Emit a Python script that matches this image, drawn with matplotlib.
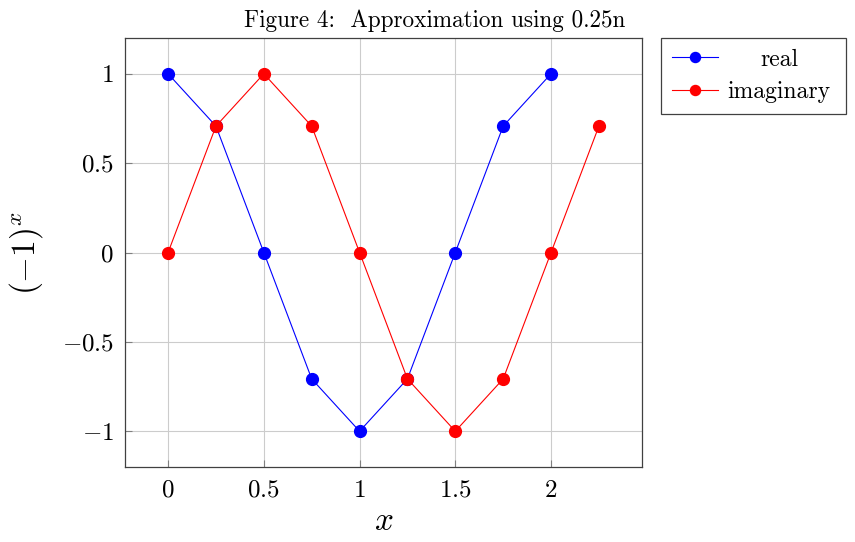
import matplotlib
matplotlib.use("Agg")
import matplotlib.pyplot as plt
from matplotlib.offsetbox import VPacker, DrawingArea

plt.rcParams['mathtext.fontset'] = 'cm'
plt.rcParams['font.family'] = ['cmr10', 'DejaVu Serif']
plt.rcParams['axes.formatter.use_mathtext'] = True

x_real = [0, 0.25, 0.5, 0.75, 1.0, 1.25, 1.5, 1.75, 2.0]
y_real = [1, 0.7071, 0, -0.7071, -1, -0.7071, 0, 0.7071, 1]
x_imag = [0, 0.25, 0.5, 0.75, 1.0, 1.25, 1.5, 1.75, 2.0, 2.25]
y_imag = [0, 0.7071, 1, 0.7071, 0, -0.7071, -1, -0.7071, 0, 0.7071]
xticks = [0, 0.5, 1, 1.5, 2]
xticklabels = ['$0$', '$0.5$', '$1$', '$1.5$', '$2$']
yticks = [-1, -0.5, 0, 0.5, 1]
yticklabels = ['$-1$', '$-0.5$', '$0$', '$0.5$', '$1$']

fig = plt.figure(figsize=(8.55, 5.42), dpi=100)
ax = fig.add_axes([125/855, 1-467/542, (642-125)/855, (467-38)/542])

ax.plot(x_real, y_real, color='#0000ff', lw=0.8, marker='o', ms=8.5, label='real', zorder=3)
ax.plot(x_imag, y_imag, color='#ff0000', lw=0.8, marker='o', ms=8.5, label='imaginary', zorder=3)

ax.set_xlim(-0.225, 2.475)
ax.set_ylim(-1.2, 1.2)
ax.set_xticks(xticks)
ax.set_xticklabels(xticklabels, fontsize=18)
ax.set_yticks(yticks)
ax.set_yticklabels(yticklabels, fontsize=18)
ax.grid(True, color='#cccccc', lw=0.8)
ax.set_axisbelow(True)
ax.tick_params(direction='in', length=5, color='#808080', width=0.8)
ax.tick_params(axis='y', pad=8)
ax.tick_params(axis='x', pad=9)
for s in ax.spines.values():
    s.set_color('#404040')
    s.set_linewidth(0.9)

ax.set_xlabel('$x$', fontsize=24, labelpad=4)
ax.set_ylabel('$(-1)^x$', fontsize=24, labelpad=12)
fig.text(435/855, 1-27/542, 'Figure 4:  Approximation using 0.25n', fontsize=16.7,
         ha='center', va='baseline')

leg = ax.legend(loc='upper left', bbox_to_anchor=(661/855, 1-38/542), bbox_transform=fig.transFigure,
                fontsize=17, fancybox=False, framealpha=1, edgecolor='#404040',
                borderaxespad=0, handlelength=1.95, handletextpad=0.25, borderpad=0.45,
                labelspacing=0.45, markerfirst=True, markerscale=0.85)
leg.get_frame().set_linewidth(0.9)

# center legend labels within their column (pgfplots style)
try:
    renderer = fig.canvas.get_renderer()
    widths = [t.get_window_extent(renderer).width * 72 / fig.dpi for t in leg.get_texts()]
    W = max(widths) + 6
    col = leg._legend_handle_box.get_children()[0]
    for item in col.get_children():
        ta = item._children[1]
        item._children[1] = VPacker(pad=0, sep=0, align='center',
                                    children=[ta, DrawingArea(W, 0)])
        item._children[1].set_figure(fig)
except Exception:
    pass

fig.savefig('out.png', dpi=100)
